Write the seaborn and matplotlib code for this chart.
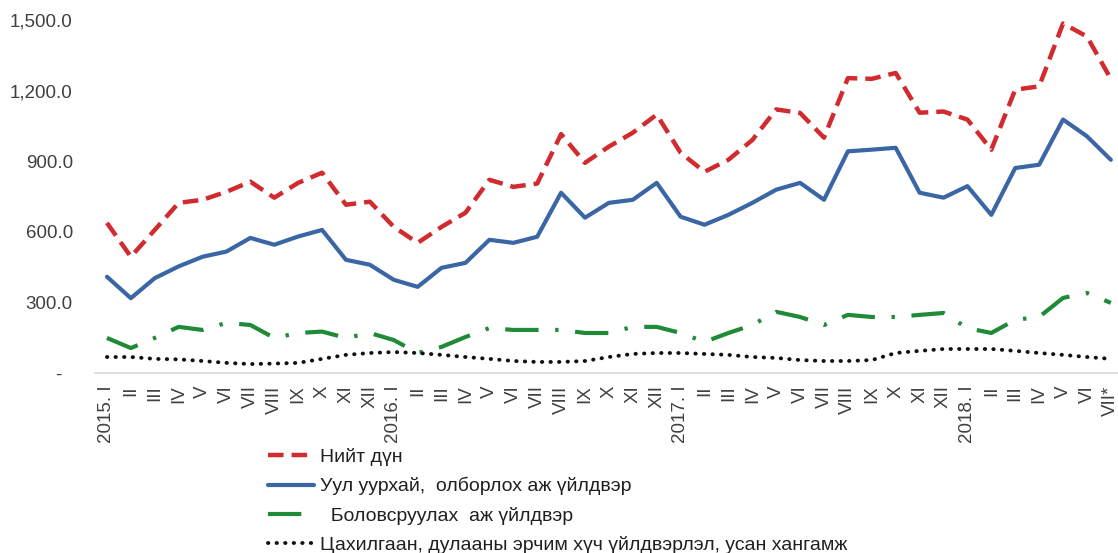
import matplotlib
matplotlib.use("Agg")
import matplotlib.pyplot as plt
import pandas as pd
import seaborn as sns
import numpy as np
from matplotlib import font_manager

# periods 2015.I .. 2018.VII*
months = ['I', 'II', 'III', 'IV', 'V', 'VI', 'VII', 'VIII', 'IX', 'X', 'XI', 'XII']
years = ['2015', '2016', '2017', '2018']
period_labels = []
for y in years:
	for m in months:
		if m == 'I':
			period_labels.append(f'{y}. I')
		else:
			period_labels.append(m)
period_labels = period_labels[:43]
period_labels[-1] = 'VII*'

total = [638, 494, 608, 723, 736, 770, 813, 745, 808, 851, 715, 728,
		 621, 553, 621, 681, 821, 791, 805, 1015, 893, 962, 1021, 1098,
		 936, 855, 906, 990, 1120, 1105, 1000, 1253, 1250, 1275, 1106, 1111,
		 1077, 949, 1204, 1218, 1485, 1430, 1250]
mining = [409, 318, 403, 453, 494, 516, 574, 545, 580, 608, 481, 460,
		  396, 366, 447, 468, 566, 553, 579, 766, 660, 723, 736, 808,
		  664, 630, 672, 723, 779, 808, 736, 942, 949, 957, 766, 745,
		  794, 672, 871, 885, 1077, 1006, 906]
manuf = [149, 106, 149, 196, 183, 213, 204, 149, 170, 176, 149, 170,
		 140, 85, 111, 153, 191, 183, 183, 183, 170, 170, 196, 196,
		 170, 132, 170, 204, 260, 238, 204, 247, 238, 238, 247, 255,
		 191, 170, 226, 238, 319, 340, 298]
energy = [68, 68, 60, 58, 51, 43, 38, 40, 43, 60, 77, 85,
		  89, 85, 77, 68, 60, 51, 47, 47, 51, 68, 81, 85,
		  85, 81, 77, 68, 64, 55, 51, 51, 55, 85, 94, 102,
		  102, 102, 94, 85, 77, 68, 60]

series_names = ['Нийт дүн',
				'Уул уурхай,  олборлох аж үйлдвэр',
				'  Боловсруулах  аж үйлдвэр',
				'Цахилгаан, дулааны эрчим хүч үйлдвэрлэл, усан хангамж']

styles = [
	dict(color='#D12A2F', lw=3.2, ls=(0, (3.5, 1.8)), cap='butt'),
	dict(color='#3B66A6', lw=3.0, ls='-', cap='round'),
	dict(color='#1F8A37', lw=3.0, ls=(0, (8, 4, 0.8, 4)), cap='butt'),
	dict(color='#111111', lw=2.8, ls=(0, (0.1, 2.1)), cap='round'),
]

rows = []
for name, vals in zip(series_names, [total, mining, manuf, energy]):
	for i, v in enumerate(vals):
		rows.append({'idx': i, 'value': v, 'series': name})
df = pd.DataFrame(rows)

sns.set_style('white')
plt.rcParams['font.family'] = ['Liberation Sans', 'DejaVu Sans']

fig = plt.figure(figsize=(11.18, 5.53), dpi=100)
ax = fig.add_axes([95 / 1118, 180 / 553, 1023 / 1118, 353 / 553])

for name, st in zip(series_names, styles):
	sub = df.loc[df['series'] == name]
	sns.lineplot(x='idx', y='value', data=sub, ax=ax, color=st['color'],
				 linewidth=st['lw'], linestyle=st['ls'], label=name,
				 dash_capstyle=st['cap'], solid_capstyle='round', legend=False)

ax.set_xlim(-0.5, 42.3)
ax.set_ylim(0, 1500)
ax.set_yticks([0, 300, 600, 900, 1200, 1500])
ax.set_yticklabels(['-  ', '300.0', '600.0', '900.0', '1,200.0', '1,500.0'])
ax.set_xticks(range(43))
ax.set_xticklabels(period_labels, rotation=90, va='top', ha='center')
ax.tick_params(axis='y', length=0, pad=16, labelsize=13.5, labelcolor='#404040')
ax.tick_params(axis='x', length=0, pad=9, labelsize=13.5, labelcolor='#404040')
ax.set_xlabel('')
ax.set_ylabel('')
for s in ['top', 'right', 'left']:
	ax.spines[s].set_visible(False)
ax.spines['bottom'].set_color('#D9D9D9')
ax.spines['bottom'].set_linewidth(1.2)

# legend font: narrow if available
names_avail = {f.name for f in font_manager.fontManager.ttflist}
leg_family = ['Liberation Sans Narrow', 'Liberation Sans'] if 'Liberation Sans Narrow' in names_avail else ['Liberation Sans']
handles, labels = ax.get_legend_handles_labels()
fig.legend(handles, labels, loc='upper left', bbox_to_anchor=(258 / 1118, 115 / 553),
		   frameon=False, borderpad=0, handlelength=2.4, handletextpad=0.3,
		   labelspacing=0.58, prop={'family': leg_family, 'size': 14}, labelcolor='#202020')

fig.savefig('out.png', dpi=100)
